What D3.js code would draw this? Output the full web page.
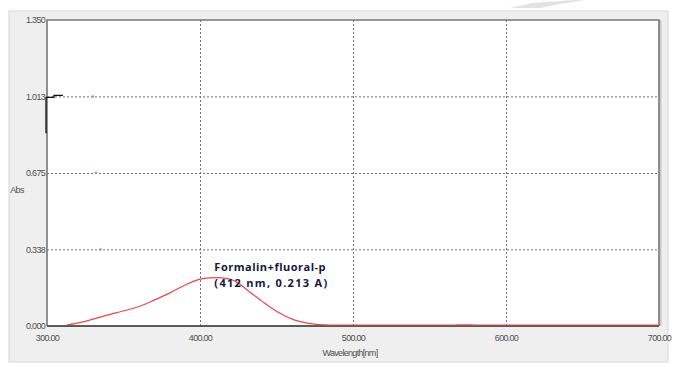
<!DOCTYPE html>
<html>
<head>
<meta charset="utf-8">
<script src="https://cdn.jsdelivr.net/npm/d3@7/dist/d3.min.js"></script>
<style>
  html, body { margin: 0; padding: 0; background: #ffffff; }
  svg { display: block; }
  .tick-label { font-family: "Liberation Sans", Arial, sans-serif; font-size: 9px; fill: #505050; letter-spacing: -0.7px; }
</style>
</head>
<body>
<svg id="chart" width="678" height="367"></svg>
<script>
// Absorption spectrum: wavelength (nm) vs absorbance
const wavelengths = [313, 322, 330, 345, 361, 370, 380, 390, 400, 406, 412, 420, 426, 432, 440, 448, 455, 462, 470, 485, 500, 540, 566, 572, 575, 580, 620, 660, 700];
const absorbance  = [0.000, 0.016, 0.030, 0.058, 0.088, 0.114, 0.145, 0.180, 0.207, 0.212, 0.213, 0.206, 0.185, 0.152, 0.112, 0.074, 0.046, 0.026, 0.013, 0.004, 0.002, 0.002, 0.002, 0.005, 0.005, 0.002, 0.001, 0.001, 0.001];

const xTicks = [300, 400, 500, 600, 700];
const yTicks = [0, 0.338, 0.675, 1.013, 1.35];
const yTickLabels = ["0.000", "0.338", "0.675", "1.013", "1.350"];

const peakName = "Formalin+fluoral-p";
const peakWavelength = 412;
const peakAbsorbance = 0.213;

const svg = d3.select("#chart");

const plot = { left: 47, right: 659, top: 20, bottom: 326 };

const x = d3.scaleLinear().domain([300, 700]).range([plot.left, plot.right]);
const y = d3.scaleLinear().domain([0, 1.35]).range([plot.bottom, plot.top]);

// Window panel
svg.append("rect")
  .attr("x", 9).attr("y", 11).attr("width", 659).attr("height", 351)
  .attr("fill", "#efefef").attr("stroke", "#d6d6d6").attr("stroke-width", 1);

// Faint decoration at the top edge
svg.append("path")
  .attr("d", "M510,8 L532,3 L575,0 L585,0 L560,4 L540,8 Z")
  .attr("fill", "#e2e2e2");

// Plot background
svg.append("rect")
  .attr("x", plot.left).attr("y", plot.top)
  .attr("width", plot.right - plot.left).attr("height", plot.bottom - plot.top)
  .attr("fill", "#ffffff");

// Dotted grid lines
const grid = svg.append("g");
grid.append("g")
  .attr("transform", `translate(0,${plot.bottom})`)
  .call(d3.axisBottom(x).tickValues(xTicks.slice(1, -1)).tickSize(-(plot.bottom - plot.top)).tickFormat(""))
  .call(g => g.select(".domain").remove())
  .call(g => g.selectAll("line").attr("stroke", "#707070").attr("stroke-dasharray", "2,2").attr("stroke-width", 1));
grid.append("g")
  .attr("transform", `translate(${plot.left},0)`)
  .call(d3.axisLeft(y).tickValues(yTicks.slice(1, -1)).tickSize(-(plot.right - plot.left)).tickFormat(""))
  .call(g => g.select(".domain").remove())
  .call(g => g.selectAll("line").attr("stroke", "#707070").attr("stroke-dasharray", "2,2").attr("stroke-width", 1));

// Small markers sitting on horizontal grid lines
const gridMarks = [[330, 1.013], [332, 0.675], [335, 0.338]];
svg.append("g").selectAll("rect").data(gridMarks).join("rect")
  .attr("x", d => x(d[0]) - 1).attr("y", d => y(d[1]) - 1)
  .attr("width", 2).attr("height", 2).attr("fill", "#e07070");

// Frame: shadowed right edge, dark top/left/bottom
svg.append("line").attr("x1", plot.right + 1.5).attr("x2", plot.right + 1.5)
  .attr("y1", plot.top).attr("y2", plot.bottom).attr("stroke", "#c8c8c8").attr("stroke-width", 2);
svg.append("path")
  .attr("d", `M${plot.left},${plot.bottom} L${plot.left},${plot.top} L${plot.right},${plot.top} L${plot.right},${plot.bottom}`)
  .attr("fill", "none").attr("stroke", "#777777").attr("stroke-width", 1.6);
svg.append("line").attr("x1", plot.left).attr("x2", plot.right)
  .attr("y1", plot.bottom).attr("y2", plot.bottom).attr("stroke", "#5a5a5a").attr("stroke-width", 2);

// Cursor marker near the 1.013 level
svg.append("path")
  .attr("d", `M${plot.left - 1},${y(0.85)} L${plot.left - 1},${y(1.013) + 1} L${plot.left + 7},${y(1.013) + 1} L${plot.left + 7},${y(1.013) - 1} L${plot.left + 16},${y(1.013) - 1}`)
  .attr("fill", "none").attr("stroke", "#111111").attr("stroke-width", 1.3);

// Spectrum line
const pts = wavelengths.map((w, i) => [w, absorbance[i]]);
svg.append("path")
  .datum(pts)
  .attr("fill", "none")
  .attr("stroke", "#e8474c")
  .attr("stroke-width", 1.2)
  .attr("d", d3.line().x(d => x(d[0])).y(d => Math.min(y(d[1]), plot.bottom - 1)).curve(d3.curveMonotoneX));

// Peak annotation
const ann = svg.append("g")
  .attr("font-family", "'Open Sans', 'DejaVu Sans', sans-serif")
  .attr("font-weight", "bold").attr("font-size", 11).attr("fill", "#15173a");
ann.append("text").attr("x", x(peakWavelength) - 4).attr("y", y(peakAbsorbance) - 7)
  .attr("letter-spacing", "0.5px")
  .text(peakName);
ann.append("text").attr("x", x(peakWavelength) - 4).attr("y", y(peakAbsorbance) + 9)
  .attr("letter-spacing", "1.3px")
  .text(`(${peakWavelength} nm, ${peakAbsorbance.toFixed(3)} A)`);

// Y axis labels
svg.append("g")
  .attr("transform", `translate(${plot.left - 2},0)`)
  .call(d3.axisLeft(y).tickValues(yTicks).tickSize(0).tickPadding(0).tickFormat((d, i) => yTickLabels[i]))
  .call(g => g.select(".domain").remove())
  .call(g => g.selectAll("text").attr("class", "tick-label"));

// X axis labels
svg.append("g")
  .attr("transform", `translate(0,${plot.bottom + 9})`)
  .call(d3.axisBottom(x).tickValues(xTicks).tickSize(0).tickPadding(0).tickFormat(d => d.toFixed(2)))
  .call(g => g.select(".domain").remove())
  .call(g => g.selectAll("text").attr("class", "tick-label"));

// Axis titles
svg.append("text").attr("class", "tick-label")
  .attr("x", (plot.left + plot.right) / 2 - 3).attr("y", 356)
  .attr("text-anchor", "middle").text("Wavelength[nm]");
svg.append("text").attr("class", "tick-label")
  .attr("x", 17).attr("y", 193)
  .attr("text-anchor", "middle").text("Abs");
</script>
</body>
</html>
